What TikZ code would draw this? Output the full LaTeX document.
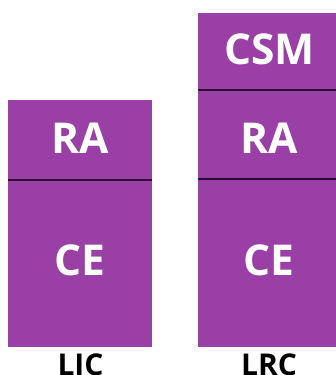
\documentclass[tikz,border=0pt]{standalone}
\usepackage{fontspec}
\setmainfont{Open Sans}[BoldFont={Open Sans Bold}]
\definecolor{layerfill}{HTML}{9A3FA6}
\definecolor{layerline}{HTML}{2A0A30}
\begin{document}
\begin{tikzpicture}[x=1pt,y=-1pt,
  layer/.style={fill=layerfill,draw=none},
  divider/.style={draw=layerline,line width=1.2pt},
  layertext/.style={text=white,font=\bfseries\fontsize{42.5}{42.5}\selectfont,inner sep=0pt},
  captext/.style={text=black,font=\bfseries\fontsize{30}{30}\selectfont,inner sep=0pt,anchor=base}]
\useasboundingbox (0,0) rectangle (336,375);
% left stack
\path[layer] (8,100) rectangle (152,347);
\coordinate (l1a) at (8,180);
\coordinate (l1b) at (152,180);
\draw[divider] (l1a) -- (l1b);
\node[layertext] (lra) at (80,138) {RA};
\node[layertext] (lce) at (80,260) {CE};
\node[captext] (lic) at (80.5,375) {LIC};
% right stack
\path[layer] (198,13) rectangle (336,347);
\coordinate (r1a) at (198,90);
\coordinate (r1b) at (336,90);
\coordinate (r2a) at (198,179);
\coordinate (r2b) at (336,179);
\draw[divider] (r1a) -- (r1b);
\draw[divider] (r2a) -- (r2b);
\node[layertext] (rcsm) at (269.5,49.7) {CSM};
\node[layertext] (rra) at (269,138) {RA};
\node[layertext] (rce) at (269,260) {CE};
\node[captext] (lrc) at (269,375) {LRC};
\end{tikzpicture}
\end{document}
